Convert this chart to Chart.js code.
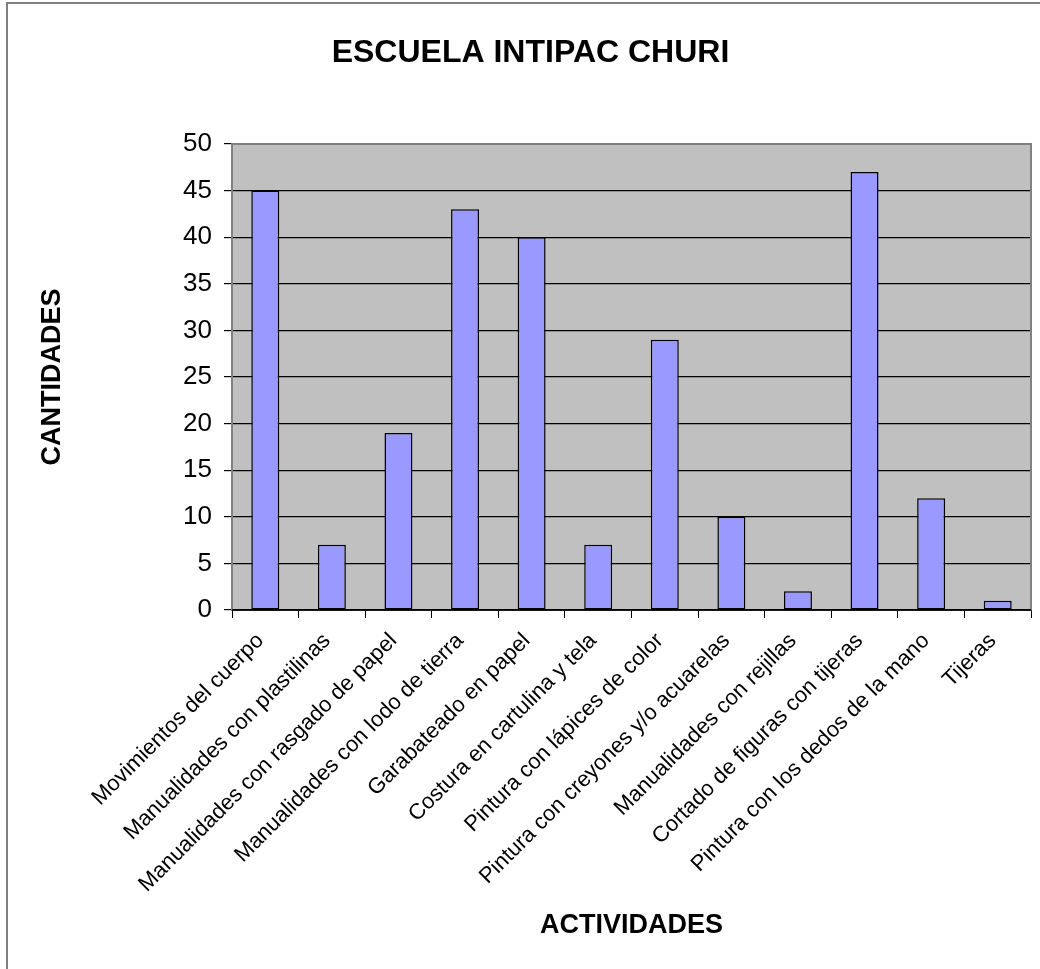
<!DOCTYPE html>
<html>
<head>
<meta charset="utf-8">
<script src="https://cdn.jsdelivr.net/npm/chart.js@4/dist/chart.umd.min.js"></script>
<style>
  body { margin: 0; background: #fff; }
  canvas { display: block; }
</style>
</head>
<body>
<canvas id="grafico" width="1040" height="969"></canvas>
<script>
const actividades = [
  "Movimientos del cuerpo",
  "Manualidades con plastilinas",
  "Manualidades con rasgado de papel",
  "Manualidades con lodo de tierra",
  "Garabateado en papel",
  "Costura en cartulina y tela",
  "Pintura con lápices de color",
  "Pintura con creyones y/o acuarelas",
  "Manualidades con rejillas",
  "Cortado de figuras con tijeras",
  "Pintura con los dedos de la mano",
  "Tijeras"
];
const cantidades = [45, 7, 19, 43, 40, 7, 29, 10, 2, 47, 12, 1];
const ticksY = [0, 5, 10, 15, 20, 25, 30, 35, 40, 45, 50];

const fuente = "'Liberation Sans', Arial, sans-serif";

// fondo gris del area de trazado y marco de la hoja
const fondoPlot = {
  id: "fondoPlot",
  beforeDraw(chart) {
    const { ctx, chartArea: a } = chart;
    ctx.save();
    ctx.fillStyle = "#C0C0C0";
    ctx.fillRect(a.left, a.top, a.right - a.left, a.bottom - a.top);
    ctx.strokeStyle = "#808080";
    ctx.lineWidth = 2;
    ctx.beginPath();
    ctx.moveTo(7, chart.height);
    ctx.lineTo(7, 3);
    ctx.lineTo(chart.width, 3);
    ctx.stroke();
    ctx.restore();
  },
  afterDraw(chart) {
    const { ctx, chartArea: a } = chart;
    ctx.save();
    ctx.strokeStyle = "#808080";
    ctx.lineWidth = 2;
    ctx.beginPath();
    ctx.moveTo(a.left, a.bottom);
    ctx.lineTo(a.left, a.top);
    ctx.lineTo(a.right, a.top);
    ctx.lineTo(a.right, a.bottom);
    ctx.stroke();
    ctx.strokeStyle = "#000";
    ctx.lineWidth = 1.5;
    ctx.beginPath();
    ctx.moveTo(a.left, a.bottom);
    ctx.lineTo(a.right, a.bottom);
    ctx.stroke();
    ctx.restore();
  }
};

new Chart(document.getElementById("grafico").getContext("2d"), {
  type: "bar",
  data: {
    labels: actividades,
    datasets: [{
      data: cantidades,
      backgroundColor: "#9999FF",
      borderColor: "#000000",
      borderWidth: 1.5,
      borderSkipped: false,
      categoryPercentage: 1,
      barPercentage: 0.42
    }]
  },
  options: {
    responsive: false,
    animation: false,
    layout: { padding: { left: 30, right: 9, top: 0, bottom: 10 } },
    plugins: {
      legend: { display: false },
      tooltip: { enabled: false },
      title: {
        display: true,
        text: "ESCUELA INTIPAC CHURI",
        color: "#000",
        font: { family: fuente, size: 32, weight: "bold" },
        padding: { top: 34, bottom: 71.6 }
      }
    },
    scales: {
      x: {
        afterFit(scale) { scale.height = 349; },
        grid: {
          offset: true,
          drawOnChartArea: false,
          drawTicks: true,
          tickLength: 8,
          color: "#000"
        },
        border: { display: true, color: "#000", width: 1.5 },
        ticks: {
          autoSkip: false,
          minRotation: 45,
          maxRotation: 45,
          padding: 10,
          labelOffset: -5,
          color: "#000",
          font: { family: fuente, size: 22 }
        },
        title: {
          display: true,
          text: "ACTIVIDADES",
          color: "#000",
          font: { family: fuente, size: 27, weight: "bold" },
          padding: { top: 0, bottom: 16.8 }
        }
      },
      y: {
        min: 0,
        max: 50,
        afterFit(scale) { scale.width = 202; },
        afterBuildTicks(scale) { scale.ticks = ticksY.map(v => ({ value: v })); },
        grid: {
          color: "#000",
          lineWidth: 1.2,
          drawTicks: true,
          tickLength: 8
        },
        border: { display: true, color: "#808080", width: 2 },
        ticks: {
          padding: 12,
          color: "#000",
          font: { family: fuente, size: 26 }
        },
        title: {
          display: true,
          text: "CANTIDADES",
          color: "#000",
          font: { family: fuente, size: 27, weight: "bold" },
          padding: { top: 6, bottom: 0 }
        }
      }
    }
  },
  plugins: [fondoPlot]
});
</script>
</body>
</html>
